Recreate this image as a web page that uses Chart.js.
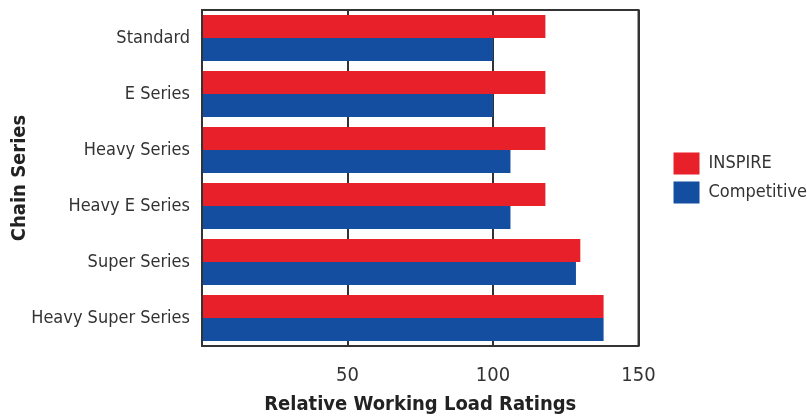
<!DOCTYPE html>
<html>
<head>
<meta charset="utf-8">
<script src="https://cdn.jsdelivr.net/npm/chart.js@4/dist/chart.umd.min.js"></script>
<style>
    html, body { margin: 0; padding: 0; background: #fff; }
    #wrap { width: 807px; height: 419px; }
</style>
</head>
<body>
<div id="wrap"><canvas id="loadChart"></canvas></div>
<script>
// chain series and relative working load ratings
var categories = ["Standard", "E Series", "Heavy Series", "Heavy E Series", "Super Series", "Heavy Super Series"];
var inspireValues = [118, 118, 118, 118, 130, 138];
var competitiveValues = [100, 100, 106, 106, 128.5, 138];
var xTicks = [50, 100, 150];

var narrow = "'DejaVu Sans Condensed', 'Liberation Sans Narrow', sans-serif";
var textColor = "#333";

// box around the plot area, drawn over the bars
var framePlugin = {
    id: "frame",
    afterDatasetsDraw: function (chart) {
        var a = chart.chartArea;
        var ctx = chart.ctx;
        ctx.save();
        ctx.strokeStyle = "#333";
        ctx.lineWidth = 2;
        ctx.strokeRect(a.left, a.top, a.right - a.left, a.bottom - a.top);
        ctx.restore();
    }
};

// vertical axes should not push the plot down for half a label
function noVerticalPadding(scale) {
    scale.paddingTop = 0;
    scale.paddingBottom = 0;
}

var ctx = document.getElementById("loadChart").getContext("2d");
var loadChart = new Chart(ctx, {
    type: "bar",
    data: {
        labels: categories,
        datasets: [
            {
                label: "INSPIRE",
                data: inspireValues,
                backgroundColor: "#e8202a",
            },
            {
                label: "Competitive",
                data: competitiveValues,
                backgroundColor: "#134ea0",
            },
        ],
    },
    options: {
        indexAxis: "y",
        responsive: true,
        maintainAspectRatio: false,
        animation: false,
        categoryPercentage: 0.82,
        barPercentage: 1,
        layout: {
            // legend text runs off the right edge like in the original
            padding: { top: 10, left: 6, right: -10, bottom: 0 }
        },
        scales: {
            x: {
                min: 0,
                max: 150,
                afterBuildTicks: function (scale) {
                    scale.ticks = [0].concat(xTicks).map(function (v) { return { value: v }; });
                },
                // chart.js doubles the tick padding, keep the axis at its real height
                afterFit: function (scale) { scale.height = 73; },
                grid: {
                    color: "#333",
                    lineWidth: 2,
                    drawTicks: false,
                },
                border: { display: false },
                ticks: {
                    padding: 18,
                    color: textColor,
                    font: { family: narrow, size: 20 },
                    callback: function (v) { return v === 0 ? "" : v; }
                },
                title: {
                    display: true,
                    text: "Relative Working Load Ratings",
                    color: "#222",
                    font: { family: narrow, size: 20, weight: "bold" },
                    padding: { top: 6, bottom: 2 }
                }
            },
            y: {
                grid: { display: false, drawTicks: false },
                border: { display: false },
                afterFit: function (scale) {
                    scale.width = 196;
                    noVerticalPadding(scale);
                },
                ticks: {
                    padding: 12,
                    color: textColor,
                    font: { family: narrow, size: 18 }
                },
                title: {
                    display: true,
                    text: "Chain Series",
                    color: "#222",
                    font: { family: narrow, size: 20, weight: "bold" },
                    padding: { top: 2, bottom: 0 }
                }
            },
            // empty space between the plot and the legend
            gap: {
                type: "category",
                axis: "y",
                position: "right",
                grid: { display: false },
                border: { display: false },
                ticks: { display: false },
                afterFit: function (scale) {
                    scale.width = 28;
                    noVerticalPadding(scale);
                }
            }
        },
        plugins: {
            legend: {
                position: "right",
                fullSize: false,
                maxWidth: 220,
                labels: {
                    boxWidth: 26,
                    boxHeight: 22,
                    padding: 7,
                    color: textColor,
                    font: { family: narrow, size: 18 }
                }
            },
            tooltip: { enabled: false },
            title: { display: false }
        }
    },
    plugins: [framePlugin]
});
</script>
</body>
</html>
